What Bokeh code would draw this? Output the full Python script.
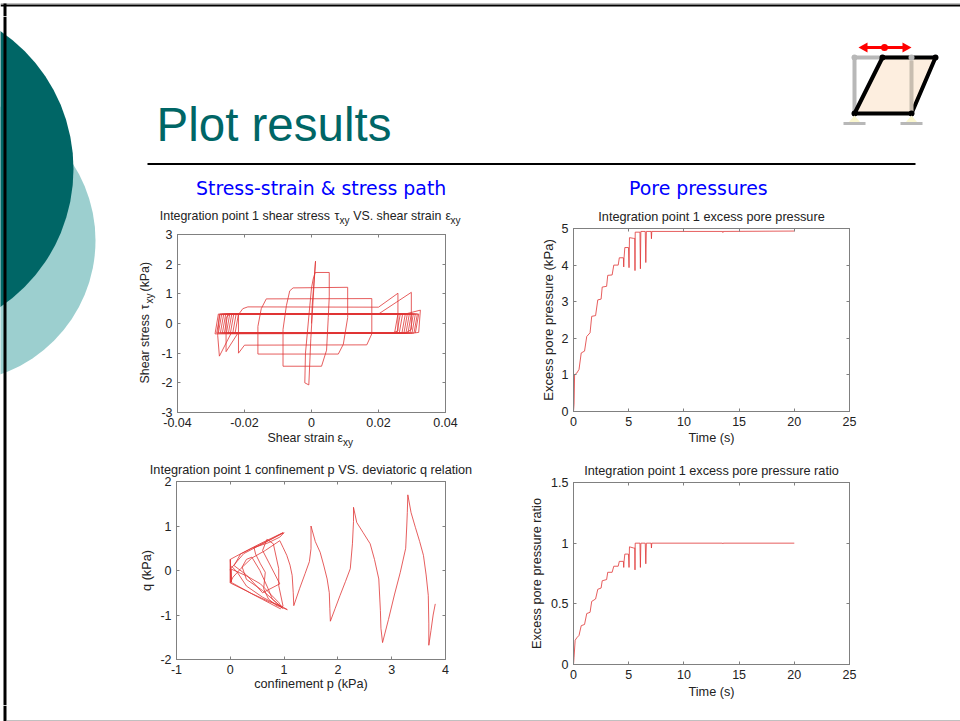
from bokeh.plotting import figure
from bokeh.layouts import column, row
from bokeh.models import Range1d, LinearAxis, FixedTicker, Title
from bokeh.core.properties import value
from bokeh.embed import file_html
from bokeh.resources import INLINE

# ---------- data ----------
strain = [0,0.0002,0.0006,0.0012,0.0008,-0.0002,-0.0008,-0.002,-0.0018,-0.0005,0,0.0005,0.0011,0.0053,0.0053,0.005,0.0045,0.003,-0.0085,-0.0085,-0.0075,-0.0065,-0.0055,0.0108,0.0108,0.0095,0.008,-0.016,-0.016,-0.015,-0.0135,0.018,0.018,0.0165,-0.02,-0.0218,-0.0218,-0.0205,-0.019,0.02,0.0258,0.0258,0.024,-0.022,-0.0255,-0.0255,-0.0245,0.02,0.0298,0.0298,0.028,-0.024,-0.0275,-0.028,-0.0275,0.028,0.0325,0.032,0.03,-0.0288,-0.0278,0.0258,0.0248,-0.0283,-0.0273,0.0265,0.0255,-0.0278,-0.0268,0.0272,0.0262,-0.0272,-0.0262,0.028,0.027,-0.0266,-0.0256,0.0286,0.0276,-0.026,-0.025,0.0292,0.0282,-0.0254,-0.0244,0.0298,0.0288,-0.0248,-0.0238,0.0304,0.0294,-0.0242,-0.0232,0.031,0.03,-0.0235,-0.0225,0.0316,0.0306,-0.0228,-0.0218,0.032,0.031]
stress = [0,0.6,1.2,2.1,1.4,-0.5,-2.07,-2.0,-1.0,0.6,1.2,1.5,1.72,1.72,0.9,0.2,-0.9,-1.44,-1.44,-0.2,0.6,1.1,1.2,1.22,0.2,-0.7,-1.03,-1.03,-0.1,0.5,0.83,0.84,-0.35,-0.72,-0.73,-1.0,0.3,0.5,0.56,0.55,1.02,-0.25,-0.33,-0.33,-0.95,0.2,0.31,0.32,1.05,-0.2,-0.33,-0.33,-1.1,-0.4,0.3,0.32,0.45,-0.3,-0.33,-0.35,0.32,0.32,-0.32,-0.32,0.32,0.32,-0.32,-0.32,0.32,0.32,-0.32,-0.32,0.32,0.32,-0.32,-0.32,0.32,0.32,-0.32,-0.32,0.32,0.32,-0.32,-0.32,0.32,0.32,-0.32,-0.32,0.32,0.32,-0.32,-0.32,0.32,0.32,-0.32,-0.32,0.32,0.32,-0.32,-0.32,0.32,0.32,-0.32]

conf_p = [3.81,3.77,3.73,3.69,3.69,3.68,3.64,3.59,3.52,3.44,3.36,3.3,3.29,3.28,3.26,3.16,3.05,2.94,2.83,2.8,2.79,2.76,2.68,2.6,2.47,2.35,2.29,2.29,2.27,2.23,2.14,2.04,1.95,1.86,1.85,1.84,1.8,1.74,1.67,1.58,1.5,1.5,1.47,1.39,1.29,1.18,1.17,1.15,1.11,1.05,0.98,0.92,
          0.65,0.4,0.2,0.05,0.0,0.0,0.02,0.4,0.72,0.95,1.06,0.85,0.71,0.62,0.65,0.56,0.47,0.44,0.5,0.75,0.98,0.55,0.2,0.0,0.0,0.3,0.6,0.93,0.98,0.9,0.9,0.8,0.68,0.6,0.75,0.92,0.6,0.3,0.07,0.19,0.4,0.7,0.92,1.0,0.6,0.25,0.0,0.02,0.02,0.3,0.56,0.9,0.97,0.78,0.7,0.55,0.4,0.3,0.22,0.3,0.6,0.95,0.6,0.3,0.13,0.02]
conf_q = [-0.75,-1.0,-1.35,-1.68,-1.2,-0.56,-0.1,0.34,0.65,0.97,1.3,1.7,1.3,1.0,0.5,-0.04,-0.55,-1.1,-1.62,-1.3,-0.9,-0.19,0.25,0.6,0.85,1.08,1.42,1.1,0.6,0.04,-0.25,-0.56,-0.85,-1.14,-0.85,-0.5,-0.19,0.1,0.41,0.65,1.0,0.49,0.2,-0.07,-0.4,-0.79,-0.5,-0.11,0.12,0.34,0.52,0.67,
          0.45,0.28,0.05,-0.15,-0.27,0.25,-0.27,-0.52,-0.7,-0.8,-0.88,-0.78,-0.64,-0.41,-0.04,0.15,0.37,0.52,0.55,0.7,0.85,0.6,0.38,0.25,-0.28,-0.46,-0.65,-0.86,-0.8,-0.34,0.04,0.6,0.7,0.45,0.1,-0.3,-0.5,-0.1,0.11,0.37,0.5,0.62,0.75,0.85,0.6,0.38,0.03,-0.26,0.03,-0.12,-0.3,-0.72,-0.85,-0.64,-0.4,0.0,0.3,0.25,0.08,-0.2,-0.45,-0.82,-0.6,-0.35,-0.04,0.1]

time_c = [0,0.05,0.1,0.3,0.5,0.7,1.0,1.2,1.5,1.65,2.0,2.2,2.5,2.6,3.0,3.1,3.5,3.65,4.05,4.15,4.52,4.55,4.58,4.65,4.98,5.03,5.07,5.45,5.55,5.57,5.59,6.02,6.06,6.1,6.5,6.55,6.6,7.03,7.06,7.09,13.5,13.53,13.56,20]
press_c = [0,0.2,1.0,1.05,1.15,1.6,1.65,2.05,2.15,2.6,2.62,3.05,3.07,3.4,3.42,3.72,3.73,4.0,4.0,4.2,4.2,3.95,4.2,4.48,4.48,3.93,4.75,4.73,4.73,3.85,4.9,4.9,3.9,4.92,4.92,4.07,4.92,4.92,4.72,4.92,4.92,4.89,4.92,4.93]

time_d = [0,0.05,0.15,0.3,0.5,0.7,1.0,1.2,1.5,1.65,2.0,2.2,2.5,2.6,3.0,3.1,3.5,3.65,4.05,4.15,4.52,4.55,4.58,4.65,4.98,5.03,5.07,5.45,5.55,5.57,5.59,6.02,6.06,6.1,6.5,6.55,6.6,7.03,7.06,7.09,13.5,13.53,13.56,20]
ratio_d = [0,0.06,0.2,0.22,0.24,0.32,0.33,0.42,0.43,0.52,0.54,0.62,0.63,0.69,0.7,0.76,0.76,0.81,0.81,0.85,0.85,0.8,0.85,0.91,0.91,0.8,0.97,0.96,0.96,0.78,1.0,1.0,0.8,1.0,1.0,0.83,1.0,1.0,0.96,1.0,1.0,0.995,1.0,1.0]

# ---------- style ----------
FONT = "Liberation Sans"
TEAL, AQUA = "#006666", "#9CCFCF"
TXT = "#222222"
RED = "#E03636"
GRAY = "#808080"
LW, LA = 1.0, 0.8

def tile(x0, x1, y0, y1):
    f = figure(width=x1 - x0, height=y1 - y0, x_range=Range1d(x0, x1), y_range=Range1d(y1, y0),
               output_backend="svg", toolbar_location=None, min_border=0, outline_line_color=None,
               x_axis_type=None, y_axis_type=None, frame_align=False)
    f.grid.visible = False
    return f

def put(f, x, y, s, size=11.5, angle=0, color=TXT, font=FONT):
    # the given point is the text's baseline start; SVG text sits about 0.38 em lower than asked
    if angle:
        x -= 0.38 * size
    else:
        y -= 0.38 * size
    f.text([x], [y], text=[s], text_font=value(font), text_font_size=f"{size}px", text_color=color,
           text_baseline="alphabetic", angle=angle, angle_units="deg")

def panel(x0, x1, y0, y1, fl, fr, ft, fb, xr, yr, xticks, yticks, xlabs, ylabs):
    p = figure(width=x1 - x0, height=y1 - y0, x_range=Range1d(*xr), y_range=Range1d(*yr),
               output_backend="svg", toolbar_location=None, outline_line_color=GRAY, frame_align=False,
               min_border_left=fl - x0, min_border_right=x1 - fr, min_border_top=ft - y0, min_border_bottom=y1 - fb)
    p.grid.visible = False
    for a, t, labs in ((p.below[0], xticks, xlabs), (p.left[0], yticks, ylabs)):
        a.ticker = FixedTicker(ticks=t)
        a.major_label_overrides = dict(zip(t, labs))
        a.major_label_text_font = FONT
        a.major_label_text_font_size = "12.5px"
        a.major_label_text_color = TXT
        a.major_label_standoff = 5
        a.axis_label_text_font = FONT
        a.axis_label_text_font_size = "12.7px"
        a.axis_label_text_font_style = "normal"
        a.axis_label_text_color = TXT
    for a, t, side in ((LinearAxis(), xticks, "above"), (LinearAxis(), yticks, "right")):
        a.ticker = FixedTicker(ticks=t)
        a.major_label_text_color = None
        a.major_label_text_font_size = "1px"
        a.major_label_standoff = 0
        p.add_layout(a, side)
    for a in p.axis:
        a.major_tick_in, a.major_tick_out = 3, 0
        a.minor_tick_line_color = None
        a.axis_line_color = GRAY
        a.major_tick_line_color = GRAY
    return p

def head(p, s, off=10, shift=-1.5):
    p.title = Title(text=s, align="center", text_font=FONT, text_font_size="12.7px",
                    text_font_style="normal", text_color=TXT, standoff=off, offset=shift)

# ---------- slide's frame: top bar and bottom bar ----------
bar = tile(0, 960, 0, 16)
bar.segment([0], [5], [960], [5], line_color="#000000", line_width=2)
bar.segment([0], [3.5], [960], [3.5], line_color=GRAY, line_width=1)
bar.segment([4.5], [3], [4.5], [16], line_color="#000000", line_width=3)

foot = tile(0, 960, 705, 721)
foot.segment([4.5], [705], [4.5], [721], line_color="#000000", line_width=3)
foot.segment([6], [720.5], [960], [720.5], line_color=GRAY, line_width=1)

# ---------- left strip with the two discs ----------
strip = tile(0, 135, 16, 705)
strip.circle([-46.8], [240], radius=141.8, fill_color=AQUA, line_color=None)
strip.circle([-94], [168.5], radius=167, fill_color=TEAL, line_color=None)
strip.segment([4.5], [16], [4.5], [705], line_color="#000000", line_width=3)

# ---------- header ----------
top = tile(135, 960, 16, 200)
put(top, 156, 142, "Plot results", 47.5, color=TEAL)
top.segment([147], [163.5], [915], [163.5], line_color="#000000", line_width=2)
put(top, 195.5, 195, "Stress-strain & stress path", 18.9, color="#0000FF", font="DejaVu Sans")
put(top, 628.5, 195, "Pore pressures", 18.9, color="#0000FF", font="DejaVu Sans")
# small frame icon
top.multi_line([[854, 854], [854, 911], [911, 911]], [[113, 57], [57, 57], [57, 113]], line_color="#B8B8B8", line_width=4)
top.patch([854, 911, 935, 882], [113, 113, 57, 57], fill_color="#FDEEDF", line_color="#000000", line_width=4, line_join="round")
top.segment([911], [60], [911], [111], line_color="#C8BDB0", line_width=4)
top.circle([882, 935, 854, 911, 854, 911], [57, 57, 113, 113, 57, 57], radius=3,
           fill_color=["#000000", "#000000", "#000000", "#000000", "#B8B8B8", "#B8B8B8"], line_color=None)
top.patch([848, 860, 854], [122, 122, 115], fill_color="#FBF7CF", line_color=None)
top.patch([905, 917, 911], [122, 122, 115], fill_color="#FBF7CF", line_color=None)
top.segment([843, 900], [123, 123], [865, 922], [123, 123], line_color="#B8B8B8", line_width=3)
top.segment([864], [47], [904], [47], line_color="#FF0000", line_width=3)
top.patch([858, 867, 867], [47, 42, 52], fill_color="#FF0000", line_color=None)
top.patch([911, 902, 902], [47, 42, 52], fill_color="#FF0000", line_color=None)
top.circle([884], [47], radius=3.5, fill_color="#FF0000", line_color=None)

# ---------- stress-strain panel with its tiles of composed text ----------
title_a = tile(135, 500, 200, 229)
put(title_a, 159.3, 220, "Integration point 1 shear stress", 12.4)
put(title_a, 334, 220, "τ", 12.4)
put(title_a, 339, 224, "xy", 10)
put(title_a, 352.7, 220, "VS. shear strain", 12.4)
put(title_a, 445, 220, "ε", 12.4)
put(title_a, 450, 224, "xy", 10)

ylab_a = tile(135, 158, 229, 450)
put(ylab_a, 149, 383, "Shear stress", 12.4, angle=90)
put(ylab_a, 149, 309, "τ", 12.4, angle=90)
put(ylab_a, 152.5, 303, "xy", 10, angle=90)
put(ylab_a, 149, 291, "(kPa)", 12.4, angle=90)

pa = panel(158, 500, 229, 432, 176, 445, 234, 412, (-0.04, 0.04), (-3, 3),
           [-0.04, -0.02, 0, 0.02, 0.04], [-3, -2, -1, 0, 1, 2, 3],
           ["-0.04", "-0.02", "0", "0.02", "0.04"], ["-3", "-2", "-1", "0", "1", "2", "3"])
pa.line(strain, stress, line_color=RED, line_width=LW, line_alpha=LA)

xlab_a = tile(158, 500, 432, 450)
put(xlab_a, 267, 442, "Shear strain", 12.4)
put(xlab_a, 337, 442, "ε", 12.4)
put(xlab_a, 342.5, 446, "xy", 10)

# ---------- the other panels ----------
pc = panel(500, 960, 200, 450, 573, 849, 228, 411, (0, 25), (0, 5),
           [0, 5, 10, 15, 20, 25], [0, 1, 2, 3, 4, 5],
           ["0", "5", "10", "15", "20", "25"], ["0", "1", "2", "3", "4", "5"])
pc.line(time_c, press_c, line_color=RED, line_width=LW, line_alpha=LA)
head(pc, "Integration point 1 excess pore pressure")
pc.below[0].axis_label = "Time (s)"
pc.below[0].axis_label_standoff = 2
pc.left[0].axis_label = "Excess pore pressure (kPa)"
pc.left[0].axis_label_text_font_size = "13.1px"
pc.left[0].axis_label_standoff = 3

pb = panel(135, 500, 450, 705, 176, 445, 481, 659, (-1, 4), (-2, 2),
           [-1, 0, 1, 2, 3, 4], [-2, -1, 0, 1, 2],
           ["-1", "0", "1", "2", "3", "4"], ["-2", "-1", "0", "1", "2"])
pb.line(conf_p, conf_q, line_color=RED, line_width=LW, line_alpha=LA)
head(pb, "Integration point 1 confinement p VS. deviatoric q relation", shift=-1)
pb.below[0].axis_label = "confinement p (kPa)"
pb.below[0].axis_label_standoff = 0
pb.left[0].axis_label = "q (kPa)"
pb.left[0].axis_label_standoff = 3

pd_ = panel(500, 960, 450, 705, 573, 849, 482, 664, (0, 25), (0, 1.5),
            [0, 5, 10, 15, 20, 25], [0, 0.5, 1, 1.5],
            ["0", "5", "10", "15", "20", "25"], ["0", "0.5", "1", "1.5"])
pd_.line(time_d, ratio_d, line_color=RED, line_width=LW, line_alpha=LA)
head(pd_, "Integration point 1 excess pore pressure ratio")
pd_.below[0].axis_label = "Time (s)"
pd_.below[0].axis_label_standoff = 3
pd_.left[0].axis_label = "Excess pore pressure ratio"
pd_.left[0].axis_label_standoff = 4

right = column(top,
               row(column(title_a, row(ylab_a, column(pa, xlab_a, spacing=0), spacing=0), spacing=0), pc, spacing=0),
               row(pb, pd_, spacing=0), spacing=0)
root = column(bar, row(strip, right, spacing=0), foot, spacing=0)
open("out.html", "w").write(file_html(root, INLINE))
